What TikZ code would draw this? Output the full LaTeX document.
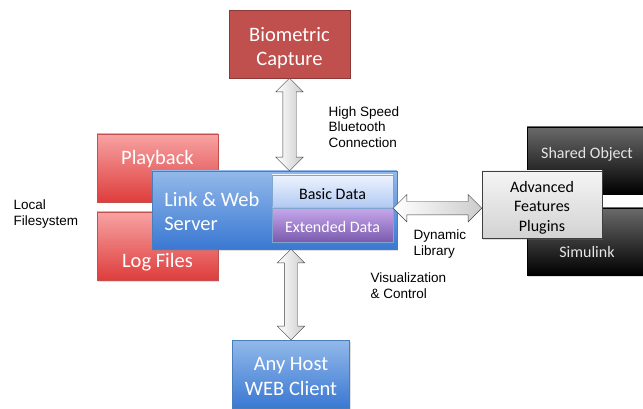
\documentclass[tikz,border=0pt]{standalone}
\usepackage{fontspec}
\setmainfont{Carlito}
\newfontfamily\notefont{Liberation Sans}
\usetikzlibrary{shapes.arrows,shadows,calc}
\definecolor{capred}{HTML}{C0504D}
\definecolor{capedge}{HTML}{8C3836}
\definecolor{pinktop}{HTML}{F8A3A3}
\definecolor{pinkbot}{HTML}{DD3D3C}
\definecolor{pinkedge}{HTML}{C4504E}
\definecolor{bluetop}{HTML}{92B9EA}
\definecolor{bluebot}{HTML}{3A78D2}
\definecolor{blueedge}{HTML}{4A7EBB}
\definecolor{paletop}{HTML}{EEF4FF}
\definecolor{palebot}{HTML}{AFC8F2}
\definecolor{lilactop}{HTML}{C7A8EC}
\definecolor{lilacbot}{HTML}{7A5AAE}
\definecolor{darktop}{HTML}{6A6A6A}
\definecolor{arrowedge}{HTML}{3F3F3F}

\begin{document}
\begin{tikzpicture}[x=1pt, y=-1pt,
    box/.style={draw, minimum width=121pt, minimum height=68pt, inner sep=0pt,
                drop shadow={shadow xshift=1pt, shadow yshift=-1.5pt, opacity=.25}},
    bigtext/.style={text=white, align=center, font=\fontsize{20.5}{24.5}\selectfont},
    smalltext/.style={align=center, font=\fontsize{16}{19.5}\selectfont},
    redbox/.style={box, draw=pinkedge, top color=pinktop, bottom color=pinkbot},
    bluebox/.style={box, draw=blueedge, top color=bluetop, bottom color=bluebot},
    darkbox/.style={box, draw=black, top color=darktop, bottom color=black},
    databox/.style={draw=blueedge!70, minimum width=121pt, inner sep=0pt},
    note/.style={anchor=west, align=left, font=\notefont\fontsize{13.5}{15.8}\selectfont},
    fatarr/.style={double arrow, draw=arrowedge, inner xsep=0pt, inner ysep=6.5pt,
                   double arrow head extend=7pt, left color=white, right color=gray!40}
  ]
  \useasboundingbox (0,0) rectangle (643,409);

  \node[box, draw=capedge, fill=capred] (bio) at (289.5,44) {};
  \node[bigtext] at ($(bio.center)+(0,4)$) {Biometric\\Capture};

  \node[redbox] (play) at (157.5,168) {};
  \node[redbox] (logf) at (157.5,246) {};
  \node[bigtext] at ($(play.center)+(0,-8.5)$) {Playback};
  \node[bigtext] at ($(logf.center)+(0,16)$) {Log Files};

  \node[bluebox, minimum width=245pt, minimum height=78pt] (link) at (274.5,210) {};
  \node[bigtext, anchor=west, align=left] at ($(link.west)+(9,1.5)$) {Link \& Web\\Server};
  \node[databox, minimum height=33pt, top color=paletop, bottom color=palebot] (basic) at (332.5,191.5) {};
  \node[databox, minimum height=34pt, top color=lilactop, bottom color=lilacbot] (ext) at (332.5,225) {};
  \node[smalltext] at ($(basic.center)+(0,2.5)$) {Basic Data};
  \node[smalltext, text=white] at ($(ext.center)+(0,2)$) {Extended Data};

  \node[darkbox, minimum width=120pt, minimum height=67pt] (shared) at (587,160.5) {};
  \node[darkbox, minimum width=120pt, minimum height=67pt] (simu) at (587,241.5) {};
  \node[smalltext, text=gray!20] at ($(shared.center)+(0,-6.5)$) {Shared Object};
  \node[smalltext, text=gray!20] at ($(simu.center)+(0,10.5)$) {Simulink};
  \node[box, draw=arrowedge, minimum width=120pt, minimum height=67pt, top color=gray!8, bottom color=gray!35] (adv) at (542,204.5) {};
  \node[smalltext] at ($(adv.center)+(0,3)$) {Advanced\\Features\\Plugins};

  \node[bluebox, minimum width=117pt] (host) at (291,374) {};
  \node[bigtext] at ($(host.center)+(0,2.5)$) {Any Host\\WEB Client};

  \path let \p1=($(bio.south)-(bio.south |- link.north)$), \n1={veclen(\x1,\y1)} in
    node[fatarr, rotate=90, minimum height=\n1] at ($(bio.south)!.5!(bio.south |- link.north)$) {};
  \path let \p1=($(host.north)-(host.north |- link.south)$), \n1={veclen(\x1,\y1)} in
    node[fatarr, rotate=90, minimum height=\n1] at ($(host.north)!.5!(host.north |- link.south)$) {};
  \path let \p1=($(basic.south east)-(adv.west |- basic.south)$), \n1={veclen(\x1,\y1)} in
    node[fatarr, minimum height=\n1] at ($(basic.south east)!.5!(adv.west |- basic.south)$) {};

  \node[note] at (325,127) {High Speed\\Bluetooth\\Connection};
  \node[note] at (410,244) {Dynamic\\Library};
  \node[note] at (367,285.5) {Visualization\\\& Control};
  \node[note] at (10,214) {Local\\Filesystem};
\end{tikzpicture}
\end{document}
